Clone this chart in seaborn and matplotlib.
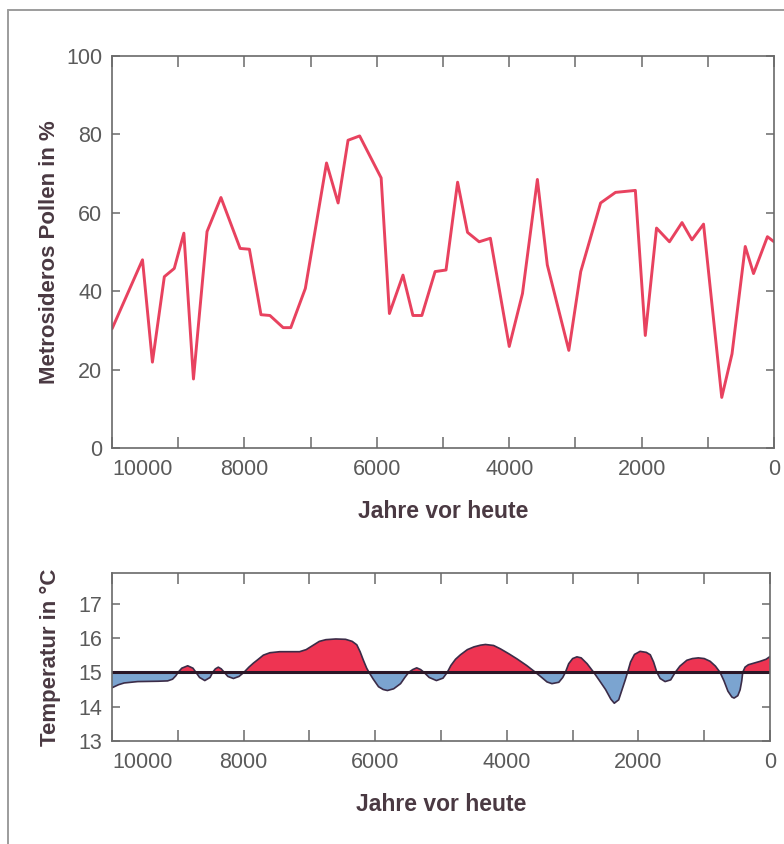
import matplotlib
matplotlib.use("Agg")
import matplotlib.pyplot as plt
from matplotlib.lines import Line2D
import numpy as np
import pandas as pd
import seaborn as sns

# Metrosideros pollen record (years before present, percent)
pollen_years = [10000, 9540, 9390, 9210, 9060, 8915, 8770, 8565, 8355, 8065,
                7925, 7750, 7615, 7415, 7300, 7080, 6760, 6585, 6435, 6260,
                5935, 5810, 5605, 5455, 5320, 5120, 4955, 4780, 4630, 4455,
                4285, 4000, 3800, 3575, 3425, 3100, 2920, 2620, 2395, 2095,
                1945, 1775, 1580, 1390, 1240, 1065, 790, 635, 435, 310, 100, 0]
pollen_pct = [30.4, 48.0, 21.9, 43.7, 45.8, 54.8, 17.6, 55.2, 63.9, 50.9,
              50.7, 34.0, 33.8, 30.7, 30.7, 40.7, 72.7, 62.5, 78.5, 79.6,
              68.9, 34.3, 44.1, 33.8, 33.8, 45.0, 45.4, 67.8, 55.0, 52.6,
              53.5, 25.9, 39.4, 68.5, 46.7, 24.9, 45.0, 62.5, 65.2, 65.7,
              28.7, 56.1, 52.6, 57.5, 53.1, 57.1, 12.9, 24.0, 51.4, 44.5, 53.9, 52.6]

# reconstructed temperature (years before present, deg C)
temp_years = [10000, 9900, 9815, 9610, 9300, 9155, 9080, 9030, 8995,
              8940, 8850, 8770, 8725,
              8670, 8590, 8510, 8470,
              8430, 8385, 8340, 8295,
              8240, 8155, 8070, 7995,
              7920, 7850, 7790, 7700, 7600, 7450, 7300, 7150, 7050, 6950,
              6850, 6750, 6600, 6450, 6350, 6280, 6230, 6180, 6130, 6095,
              6030, 5950, 5880, 5815, 5720, 5615, 5550, 5490,
              5430, 5370, 5310, 5260,
              5180, 5070, 4970, 4905,
              4850, 4780, 4705, 4600, 4500, 4400, 4325, 4200, 4095, 3970,
              3845, 3700, 3565,
              3470, 3390, 3315, 3210, 3150, 3110,
              3060, 3000, 2935, 2870, 2780, 2680,
              2600, 2500, 2420, 2367, 2300, 2250, 2200, 2165,
              2120, 2060, 1975, 1880, 1820, 1770, 1720,
              1670, 1595, 1510, 1440,
              1370, 1265, 1180, 1090, 1000, 910, 830, 760,
              700, 640, 580, 546, 490, 455, 430, 415,
              380, 330, 240, 150, 60, 0]
temp_c = [14.55, 14.64, 14.69, 14.73, 14.74, 14.75, 14.8, 14.9, 15.0,
          15.12, 15.19, 15.12, 15.0,
          14.85, 14.76, 14.85, 15.0,
          15.1, 15.15, 15.1, 15.0,
          14.88, 14.82, 14.88, 15.0,
          15.15, 15.27, 15.36, 15.5, 15.57, 15.6, 15.6, 15.6, 15.66, 15.78,
          15.9, 15.95, 15.97, 15.96, 15.9, 15.8, 15.6, 15.35, 15.12, 15.0,
          14.8, 14.58, 14.5, 14.47, 14.52, 14.67, 14.85, 15.0,
          15.08, 15.13, 15.08, 15.0,
          14.85, 14.76, 14.83, 15.0,
          15.2, 15.38, 15.51, 15.66, 15.74, 15.79, 15.81, 15.78, 15.68, 15.54,
          15.39, 15.2, 15.0,
          14.85, 14.72, 14.67, 14.71, 14.85, 15.0,
          15.25, 15.4, 15.45, 15.42, 15.25, 15.0,
          14.78, 14.5, 14.22, 14.1, 14.2, 14.49, 14.78, 15.0,
          15.3, 15.52, 15.61, 15.58, 15.51, 15.3, 15.0,
          14.82, 14.73, 14.78, 15.0,
          15.18, 15.35, 15.4, 15.42, 15.4, 15.32, 15.18, 15.0,
          14.75, 14.45, 14.28, 14.25, 14.32, 14.49, 14.75, 15.0,
          15.15, 15.22, 15.27, 15.32, 15.38, 15.46]
temp_mean = 15.0

year_ticks = [10000, 8000, 6000, 4000, 2000, 0]
year_minor = [9000, 7000, 5000, 3000, 1000]
pollen_ticks = [0, 20, 40, 60, 80, 100]
temp_ticks = [13, 14, 15, 16, 17]

POLLEN_COLOR = "#e8425f"
WARM = "#ee3452"
COLD = "#7ba4d0"
OUTLINE = "#3b2c48"
MEAN_LINE = "#2a1626"
SPINE = "#6a6a6a"
TICK_TEXT = "#5a5a5a"
LABEL = "#4a3942"

sns.set_style("ticks")
plt.rcParams["font.family"] = ["Liberation Sans", "DejaVu Sans"]


def style_axes(ax, yticks, ylabel, xlabelpad):
    ax.set_xlim(10000, 0)
    ax.set_xticks(year_ticks)
    ax.set_xticks(year_minor, minor=True)
    ax.set_yticks(yticks)
    ax.tick_params(which="both", direction="in", top=True, right=True,
                   width=1.1, color=SPINE, labelsize=15.5,
                   labelcolor=TICK_TEXT)
    ax.tick_params(axis="x", which="both", length=8, pad=8)
    ax.tick_params(axis="y", length=6, pad=7)
    for lab in ax.get_xticklabels():
        if lab.get_text() == "10000":
            lab.set_ha("left")
    for s in ax.spines.values():
        s.set_color(SPINE)
        s.set_linewidth(1.2)
    ax.set_xlabel("Jahre vor heute", fontsize=16.5, fontweight="bold",
                  color=LABEL, labelpad=xlabelpad)
    ax.set_ylabel(ylabel, fontsize=16, fontweight="bold", color=LABEL)
    ax.yaxis.set_label_coords(-0.078, 0.5)


fig = plt.figure(figsize=(7.84, 8.44), dpi=100)
ax1 = fig.add_axes([0.1429, 0.4692, 0.8444, 0.4645])
ax2 = fig.add_axes([0.1429, 0.1220, 0.8393, 0.1995])

# top: pollen curve
pollen = pd.DataFrame({"jahre": pollen_years, "pollen": pollen_pct})
sns.lineplot(data=pollen, x="jahre", y="pollen", ax=ax1, color=POLLEN_COLOR,
             lw=2.1, sort=False)
ax1.set_ylim(0, 100)
style_axes(ax1, pollen_ticks, "Metrosideros Pollen in %", 14)

# bottom: temperature deviation from the mean
ty = np.array(temp_years, dtype=float)
tc = np.array(temp_c)
ax2.fill_between(ty, tc, temp_mean, where=tc >= temp_mean, interpolate=True,
                 color=WARM, lw=0)
ax2.fill_between(ty, tc, temp_mean, where=tc <= temp_mean, interpolate=True,
                 color=COLD, lw=0)
temp = pd.DataFrame({"jahre": temp_years, "temp": temp_c})
sns.lineplot(data=temp, x="jahre", y="temp", ax=ax2, color=OUTLINE,
             lw=1.2, sort=False)
ax2.axhline(temp_mean, color=MEAN_LINE, lw=2.2)
ax2.set_ylim(13, 17.9)
style_axes(ax2, temp_ticks, "Temperatur in °C", 14)

# page frame
fig.add_artist(Line2D([8 / 784, 8 / 784], [0, 1 - 10 / 844],
                      transform=fig.transFigure, color="#9c9c9c", lw=1.4))
fig.add_artist(Line2D([8 / 784, 1], [1 - 10 / 844, 1 - 10 / 844],
                      transform=fig.transFigure, color="#9c9c9c", lw=1.4))

fig.savefig("out.png", dpi=100, facecolor="white")
